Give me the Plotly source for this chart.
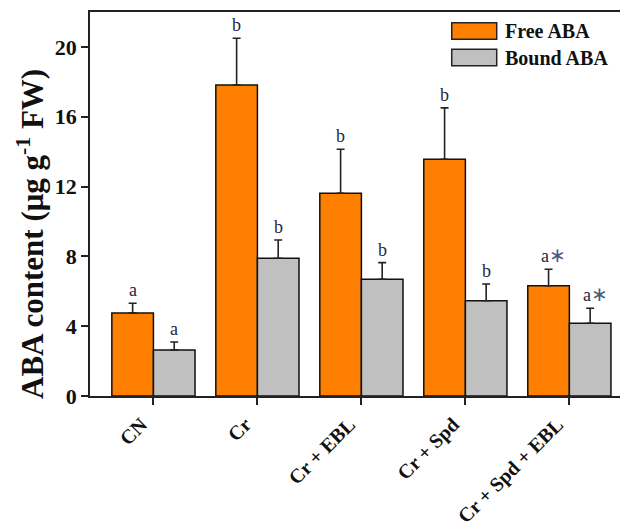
import plotly.graph_objects as go

categories = ["CN", "Cr", "Cr + EBL", "Cr + Spd", "Cr + Spd + EBL"]
free_aba = [4.76, 17.82, 11.62, 13.56, 6.32]
free_err = [0.55, 2.68, 2.52, 2.95, 0.94]
bound_aba = [2.64, 7.89, 6.69, 5.46, 4.17]
bound_err = [0.45, 1.05, 0.95, 0.96, 0.86]
free_letters = ["a", "b", "b", "b", "a*"]
bound_letters = ["a", "b", "b", "b", "a*"]
y_ticks = [0, 4, 8, 12, 16, 20]

FONT = "Liberation Serif, Times New Roman, serif"
ORANGE = "#FF8000"
GRAY = "#C0C0C0"
LETTER_COLOR = "#26263f"

fig = go.Figure()
fig.add_trace(go.Bar(
    x=categories, y=free_aba, name="Free ABA",
    marker=dict(color=ORANGE, line=dict(color="#111111", width=1.5)),
    error_y=dict(type="data", symmetric=False, array=free_err,
                 arrayminus=[0] * len(free_err), color="#222222",
                 thickness=1.6, width=4),
    showlegend=False,
))
fig.add_trace(go.Bar(
    x=categories, y=bound_aba, name="Bound ABA",
    marker=dict(color=GRAY, line=dict(color="#111111", width=1.5)),
    error_y=dict(type="data", symmetric=False, array=bound_err,
                 arrayminus=[0] * len(bound_err), color="#222222",
                 thickness=1.6, width=4),
    showlegend=False,
))

def letter_text(t):
    if t.endswith("*"):
        return t[:-1] + "<span style='font-size:20px;color:#4a5a80'>∗</span>"
    return t

annotations = []
for i, c in enumerate(categories):
    for val, err, lab, off in [(free_aba[i], free_err[i], free_letters[i], -0.2),
                               (bound_aba[i], bound_err[i], bound_letters[i], 0.2)]:
        annotations.append(dict(
            x=i + off, xref="x", y=val + err, yref="y",
            text=letter_text(lab), showarrow=False, yanchor="bottom",
            xanchor="center", yshift=1, xshift=(5 if lab.endswith("*") else 0),
            font=dict(family=FONT, size=18, color=LETTER_COLOR),
        ))

# y-axis title
annotations.append(dict(
    x=0, xref="paper", y=0.4219, yref="paper", xshift=-59,
    text="<b>ABA content (μg g<sup>-1</sup> FW)</b>", textangle=-90,
    showarrow=False, xanchor="center", yanchor="middle",
    font=dict(family=FONT, size=31, color="#111111"),
))

# legend (drawn in paper coordinates)
legend_items = [("Free ABA", ORANGE, 0.9721, 0.9289, 0.9505),
                ("Bound ABA", GRAY, 0.9029, 0.8602, 0.8802)]
shapes = []
for name, col, y1, y0, yc in legend_items:
    shapes.append(dict(type="rect", xref="paper", yref="paper",
                       x0=0.6825, x1=0.7674, y0=y0, y1=y1,
                       fillcolor=col, line=dict(color="#222222", width=1.5)))
    annotations.append(dict(
        x=0.7787, xref="paper", y=yc, yref="paper", text="<b>" + name + "</b>",
        showarrow=False, xanchor="left", yanchor="middle",
        font=dict(family=FONT, size=20, color="#111111"),
    ))

# page has an 8px body margin: figure is 612x514 placed at (8, 8)
fig.update_layout(
    template="none",
    width=612, height=514,
    margin=dict(l=82, r=0, t=4, b=126, autoexpand=False),
    paper_bgcolor="white", plot_bgcolor="white",
    barmode="group", bargap=0.2, bargroupgap=0,
    annotations=annotations, shapes=shapes,
    showlegend=False,
    font=dict(family=FONT, color="#111111"),
)
fig.update_xaxes(
    automargin=False,
    range=[-0.61, 4.487], showline=True, linecolor="#222222", linewidth=1.8,
    mirror=True, ticks="outside", ticklen=7, tickwidth=1.5, tickcolor="#222222",
    tickangle=-45, tickfont=dict(family=FONT, size=20, color="#111111"),
    ticklabelshift=-12,
    showgrid=False, zeroline=False,
    tickvals=categories, ticktext=["<b>%s</b>" % c for c in categories],
)
fig.update_yaxes(
    automargin=False,
    range=[0, 22], tickvals=y_ticks, ticktext=["<b>%d</b>" % v for v in y_ticks],
    showline=True, linecolor="#222222", linewidth=1.8,
    ticks="outside", ticklen=7, tickwidth=1.5, tickcolor="#222222",
    tickfont=dict(family=FONT, size=22, color="#111111"),
    showgrid=False, zeroline=False,
)

fig.write_html("out.html")
